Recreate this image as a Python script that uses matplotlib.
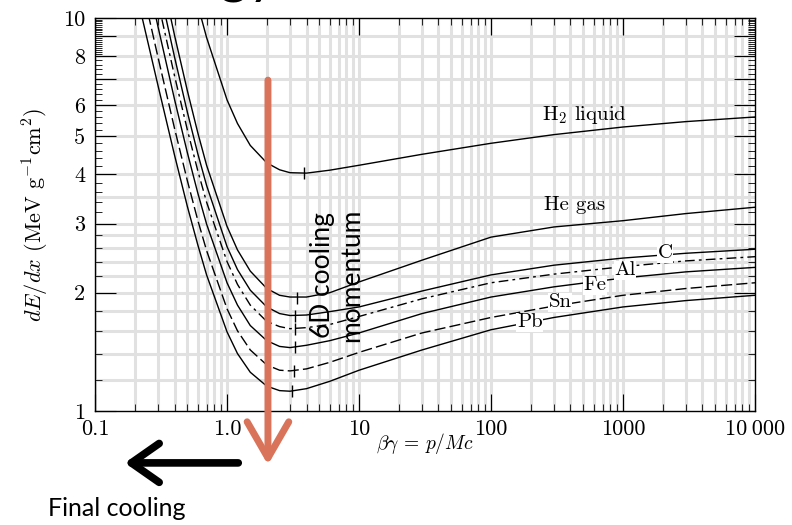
import numpy as np
import matplotlib
matplotlib.use("Agg")
import matplotlib.pyplot as plt
from matplotlib.ticker import NullFormatter

plt.rcParams['font.family'] = ['cmr10', 'DejaVu Serif']
plt.rcParams['mathtext.fontset'] = 'cm'
plt.rcParams['axes.unicode_minus'] = False

# beta*gamma grid
bg = [0.2, 0.3, 0.4, 0.5, 0.6, 0.7, 1.0, 1.2, 1.5, 2.0, 2.5, 3.0, 4.0, 6.0,
      10, 30, 100, 300, 1000, 3000, 10000]

# dE/dx in MeV g^-1 cm^2
h2_liquid = [58.9, 30.2, 19.2, 13.8, 10.8, 8.92, 6.19, 5.39, 4.74, 4.28, 4.11, 4.04,
             4.03, 4.10, 4.22, 4.50, 4.80, 5.05, 5.28, 5.45, 5.60]
he_gas = [27.3, 14.15, 9.04, 6.54, 5.11, 4.22, 2.95, 2.57, 2.27, 2.05, 1.97, 1.95,
          1.95, 2.00, 2.13, 2.42, 2.77, 2.94, 3.05, 3.18, 3.30]
carbon = [23.6, 12.35, 7.96, 5.77, 4.52, 3.75, 2.62, 2.29, 2.03, 1.84, 1.77, 1.75,
          1.755, 1.79, 1.84, 2.02, 2.22, 2.35, 2.45, 2.52, 2.58]
alum = [20.7, 10.99, 7.13, 5.20, 4.09, 3.40, 2.40, 2.10, 1.86, 1.69, 1.64, 1.62,
        1.63, 1.66, 1.74, 1.93, 2.12, 2.23, 2.33, 2.41, 2.47]
iron = [17.65, 9.50, 6.21, 4.55, 3.59, 2.99, 2.12, 1.86, 1.65, 1.51, 1.46, 1.45,
        1.47, 1.51, 1.58, 1.77, 1.95, 2.07, 2.18, 2.26, 2.32]
tin = [14.5, 7.94, 5.24, 3.86, 3.06, 2.56, 1.82, 1.60, 1.43, 1.31, 1.27, 1.265,
       1.28, 1.33, 1.41, 1.58, 1.73, 1.85, 1.97, 2.05, 2.12]
lead = [12.06, 6.73, 4.48, 3.32, 2.65, 2.22, 1.59, 1.40, 1.255, 1.157, 1.127, 1.123,
        1.14, 1.19, 1.27, 1.43, 1.61, 1.73, 1.84, 1.91, 1.97]

# minimum ionization points
min_bg = [3.8, 3.4, 3.3, 3.3, 3.3, 3.2, 3.1]
min_val = [4.03, 1.94, 1.745, 1.615, 1.451, 1.264, 1.122]

names = ['H$_2$ liquid', 'He gas', 'C', 'Al', 'Fe', 'Sn', 'Pb']
label_x = [515, 433, 2080, 1036, 614, 333, 197]
label_y = [5.66, 3.34, 2.52, 2.28, 2.09, 1.89, 1.68]

x_ticks = [0.1, 1, 10, 100, 1000, 10000]
x_ticklabels = ['0.1', '1.0', '10', '100', '1000', '10\u2009000']
y_ticks = [1, 2, 3, 4, 5, 6, 7, 8, 9, 10]
y_ticklabels = ['1', '2', '3', '4', '5', '6', '', '8', '', '10']
y_grid = [1.2, 1.4, 1.6, 1.8, 2, 2.2, 2.4, 2.6, 2.8, 3, 3.5, 4, 5, 6, 7, 8, 9]

fig = plt.figure(figsize=(7.92, 5.25), dpi=100)
ax = fig.add_axes([0.12, 0.2171, 0.8333, 0.7486])
ax.set_xscale('log')
ax.set_yscale('log')
ax.set_xlim(0.1, 10000)
ax.set_ylim(1, 10)

# light grid
for d in range(-1, 4):
    for k in range(1, 10):
        ax.axvline(k * 10.0**d, color='#e1e1e1', lw=2.2, zorder=0)
for g in y_grid:
    ax.axhline(g, color='#e1e1e1', lw=2.2, zorder=0)

curves = [h2_liquid, he_gas, carbon, alum, iron, tin, lead]
styles = ['-', '-', '-', (0, (7, 3, 2, 3)), '-', (0, (8, 3)), '-']
for vals, ls in zip(curves, styles):
    ax.plot(bg, vals, color='black', lw=1.0, ls=ls, zorder=2)
ax.plot(min_bg, min_val, ls='none', marker='|', ms=9, mew=1.0, color='black', zorder=2)

for i, name in enumerate(names):
    box = None
    if i >= 2:
        box = dict(facecolor='white', edgecolor='none', pad=0.5)
    ax.text(label_x[i], label_y[i], name, fontsize=15, ha='center', va='center',
            bbox=box, zorder=3)

ax.set_xticks(x_ticks, x_ticklabels)
ax.set_xticks([k * 10.0**d for d in range(-1, 4) for k in range(2, 10)], minor=True)
ax.set_yticks(y_ticks, y_ticklabels)
minor_y = [round(v, 1) for v in np.arange(1.2, 8.0, 0.2) if abs(v - round(v)) > 0.05]
minor_y += [round(v, 1) for v in np.arange(8.1, 10.0, 0.1) if abs(v - round(v)) > 0.05]
ax.set_yticks(minor_y, minor=True)
ax.xaxis.set_minor_formatter(NullFormatter())
ax.yaxis.set_minor_formatter(NullFormatter())
ax.tick_params(which='both', direction='in', top=True, right=True, labelsize=16)
ax.tick_params(axis='x', which='major', length=12, pad=6)
ax.tick_params(axis='y', which='major', length=15, pad=7)
ax.tick_params(which='minor', length=5)
for s in ax.spines.values():
    s.set_linewidth(1.0)

ax.set_ylabel('$dE/dx$ (MeV g$^{-1}$cm$^2$)', fontsize=16)
ax.yaxis.set_label_coords(-0.066, 0.5)
ax.set_xlabel(r'$\beta\gamma$ = $p/Mc$', fontsize=14)
ax.xaxis.set_label_coords(0.5, -0.05)

ax.annotate('', xy=(0.262, -0.137), xytext=(0.262, 0.842), xycoords='axes fraction',
            annotation_clip=False, zorder=5,
            arrowprops=dict(arrowstyle='->,head_length=1.3,head_width=0.75', color='#d9745a',
                            lw=5, mutation_scale=20, shrinkA=0, shrinkB=0))
ax.annotate('', xy=(0.045, -0.132), xytext=(0.217, -0.132), xycoords='axes fraction',
            annotation_clip=False, zorder=5,
            arrowprops=dict(arrowstyle='->,head_length=1.0,head_width=0.7', color='black',
                            lw=5.5, mutation_scale=20, shrinkA=0, shrinkB=0))

ax.text(0.367, 0.346, '6D cooling\nmomentum', transform=ax.transAxes, rotation=90,
        ha='center', va='center', fontsize=19, family='Lato', zorder=6)
fig.text(48 / 792, 1 - 508 / 525, 'Final cooling', ha='left', va='center',
         fontsize=18, family='Lato')
fig.text(278 / 792, 1 + 8 / 525, 'Energy', ha='right', va='baseline',
         fontsize=40, family='Lato')

fig.savefig('out.png', dpi=100)
